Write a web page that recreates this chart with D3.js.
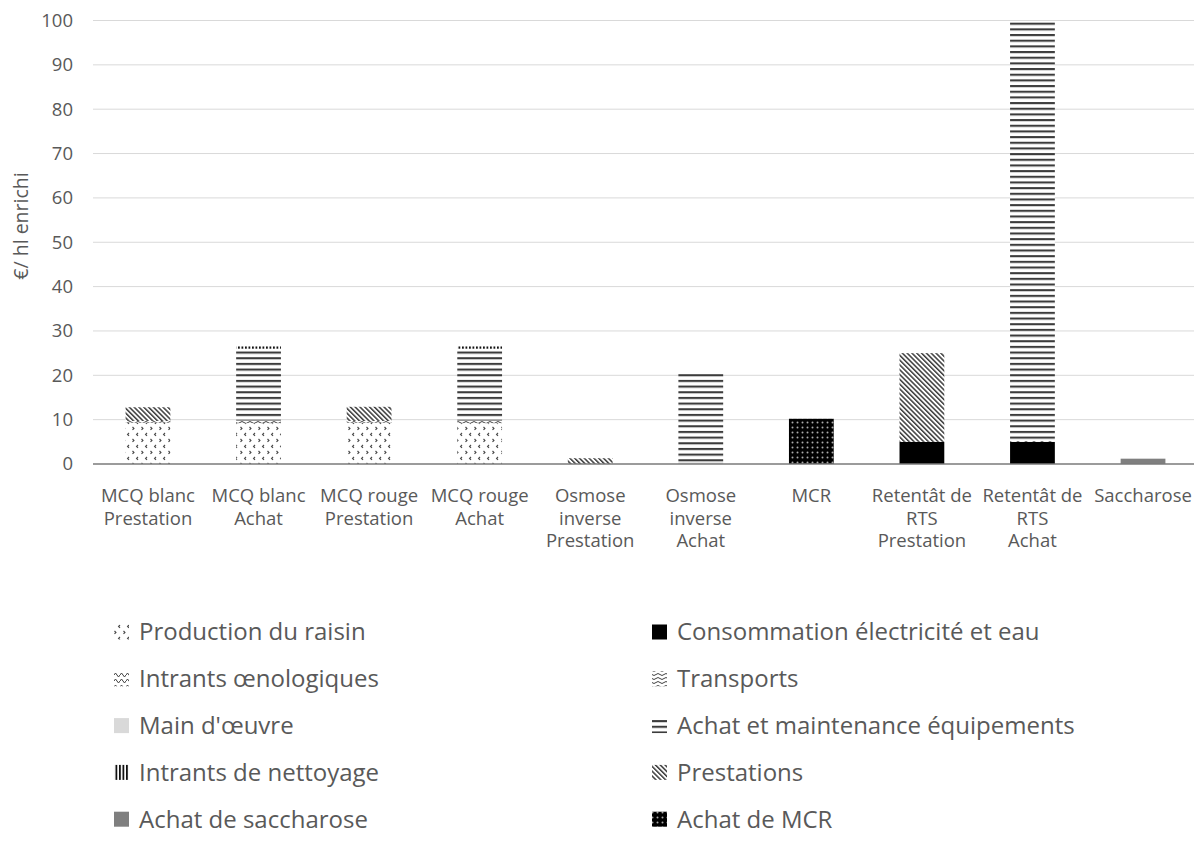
<!DOCTYPE html>
<html>
<head>
<meta charset="utf-8">
<script src="https://cdn.jsdelivr.net/npm/d3@7"></script>
<style>
  html, body { margin: 0; padding: 0; background: #fff; }
  svg { display: block; font-family: "Open Sans", Lato, sans-serif; }
</style>
</head>
<body>
<svg id="chart" width="1194" height="861"></svg>
<script>
// Categories (label lines as drawn under each bar)
const categories = [
  "MCQ blanc Prestation", "MCQ blanc Achat", "MCQ rouge Prestation", "MCQ rouge Achat",
  "Osmose inverse Prestation", "Osmose inverse Achat", "MCR",
  "Retentât de RTS Prestation", "Retentât de RTS Achat", "Saccharose"
];
const categoryLines = [
  ["MCQ blanc", "Prestation"], ["MCQ blanc", "Achat"], ["MCQ rouge", "Prestation"], ["MCQ rouge", "Achat"],
  ["Osmose", "inverse", "Prestation"], ["Osmose", "inverse", "Achat"], ["MCR"],
  ["Retentât de", "RTS", "Prestation"], ["Retentât de", "RTS", "Achat"], ["Saccharose"]
];

// Cost components, €/hl enrichi
const productionRaisin   = [9.3, 9.2, 9.3, 9.2, 0, 0, 0, 0, 0, 0];
const consoElecEau       = [0, 0, 0, 0, 0, 0, 0, 5.0, 5.0, 0];
const intrantsOenolog    = [0, 0, 0, 0, 0, 0, 0, 0, 0, 0];
const transports         = [0.4, 0.6, 0.4, 0.6, 0, 0, 0, 0, 0.4, 0];
const mainOeuvre         = [0, 0, 0, 0, 0, 0.4, 0, 0, 0, 0];
const equipements        = [0, 16.2, 0, 16.2, 0, 20.1, 0, 0, 94.3, 0];
const intrantsNettoyage  = [0, 0.5, 0, 0.5, 0, 0, 0, 0, 0, 0];
const prestations        = [3.1, 0, 3.2, 0, 1.3, 0, 0, 20.0, 0, 0];
const achatSaccharose    = [0, 0, 0, 0, 0, 0, 0, 0, 0, 1.2];
const achatMCR           = [0, 0, 0, 0, 0, 0, 10.2, 0, 0, 0];

const seriesNames = [
  "Production du raisin", "Consommation électricité et eau", "Intrants œnologiques", "Transports",
  "Main d'œuvre", "Achat et maintenance équipements", "Intrants de nettoyage", "Prestations",
  "Achat de saccharose", "Achat de MCR"
];
const seriesValues = [
  productionRaisin, consoElecEau, intrantsOenolog, transports, mainOeuvre,
  equipements, intrantsNettoyage, prestations, achatSaccharose, achatMCR
];
const yTicks = [0, 10, 20, 30, 40, 50, 60, 70, 80, 90, 100];

const svg = d3.select("#chart");
const defs = svg.append("defs");
const textColor = "#595959";

// ---- fill patterns ----
function pat(id, w, h, transform) {
  const p = defs.append("pattern").attr("id", id)
    .attr("patternUnits", "userSpaceOnUse").attr("width", w).attr("height", h);
  if (transform) p.attr("patternTransform", transform);
  return p;
}
// grape production: staggered small chevrons
{
  const p = pat("p0", 9, 12);
  p.append("rect").attr("width", 9).attr("height", 12).attr("fill", "#fff");
  p.append("path").attr("d", "M3,1 L1.6,2.4 L3,3.8").attr("fill", "none").attr("stroke", "#4a4a4a").attr("stroke-width", 1.2);
  p.append("path").attr("d", "M6.5,7 L7.9,8.4 L6.5,9.8").attr("fill", "none").attr("stroke", "#4a4a4a").attr("stroke-width", 1.2);
}
// oenological inputs: zigzag
{
  const p = pat("p2", 6, 6);
  p.append("rect").attr("width", 6).attr("height", 6).attr("fill", "#fff");
  p.append("path").attr("d", "M0,3 L1.5,1 L3,3 L4.5,5 L6,3").attr("fill", "none").attr("stroke", "#404040").attr("stroke-width", 1);
}
// transports: wave dashes
{
  const p = pat("p3", 8, 4);
  p.append("rect").attr("width", 8).attr("height", 4).attr("fill", "#fff");
  p.append("path").attr("d", "M0,2.5 Q2,0.5 4,2.5 T8,2.5").attr("fill", "none").attr("stroke", "#404040").attr("stroke-width", 1);
}
// equipment: horizontal lines
{
  const p = pat("p5", 10, 5.67);
  p.append("rect").attr("width", 10).attr("height", 5.67).attr("fill", "#fff");
  p.append("rect").attr("y", 0).attr("width", 10).attr("height", 2.1).attr("fill", "#3c3c3c");
}
// cleaning inputs: vertical lines
{
  const p = pat("p6", 3.5, 10);
  p.append("rect").attr("width", 3.5).attr("height", 10).attr("fill", "#fff");
  p.append("rect").attr("x", 0).attr("width", 1.8).attr("height", 10).attr("fill", "#111");
}
// services: diagonal "\" lines
{
  const p = pat("p7", 3.4, 10, "rotate(-45)");
  p.append("rect").attr("width", 3.4).attr("height", 10).attr("fill", "#fff");
  p.append("rect").attr("x", 0).attr("width", 1.5).attr("height", 10).attr("fill", "#3a3a3a");
}
// MCR purchase: black with light dots
{
  const p = pat("p9", 5, 5);
  p.append("rect").attr("width", 5).attr("height", 5).attr("fill", "#000");
  p.append("circle").attr("cx", 2.5).attr("cy", 2.5).attr("r", 1).attr("fill", "#aaa");
}

const fills = [
  "url(#p0)", "#000000", "url(#p2)", "url(#p3)", "#d9d9d9",
  "url(#p5)", "url(#p6)", "url(#p7)", "#7f7f7f", "url(#p9)"
];

// ---- scales ----
const x = d3.scaleBand().domain(categories).range([92.7, 1198.3]).paddingInner(0.595).paddingOuter(0.2975);
const y = d3.scaleLinear().domain([0, 100]).range([464, 20.5]);

// gridlines
svg.append("g").selectAll("line").data(yTicks.filter(d => d > 0)).join("line")
  .attr("x1", 93).attr("x2", 1194)
  .attr("y1", d => y(d)).attr("y2", d => y(d))
  .attr("stroke", "#d9d9d9").attr("stroke-width", 1);

// y axis labels
const yAxis = d3.axisLeft(y).tickValues(yTicks).tickSize(0).tickPadding(0);
const gy = svg.append("g").attr("transform", "translate(73,0)").call(yAxis);
gy.select(".domain").remove();
gy.selectAll("text").attr("fill", textColor).style("font-size", "18.5px")
  .style("font-family", "'Open Sans', Lato, sans-serif");

// axis title
svg.append("text")
  .attr("transform", "translate(21,226) rotate(-90)")
  .attr("text-anchor", "middle").attr("dy", "0.35em").attr("fill", textColor).style("font-size", "19.5px")
  .text("€/ hl enrichi");

// ---- stacked bars ----
const table = categories.map((c, i) => {
  const row = { cat: c };
  seriesNames.forEach((s, k) => row[s] = seriesValues[k][i]);
  return row;
});
const stacked = d3.stack().keys(seriesNames)(table);

svg.append("g").selectAll("g").data(stacked).join("g")
  .attr("fill", (d, i) => fills[i])
  .selectAll("rect").data(d => d.filter(v => v[1] - v[0] > 0)).join("rect")
  .attr("x", d => x(d.data.cat))
  .attr("width", x.bandwidth())
  .attr("y", d => y(d[1]))
  .attr("height", d => y(d[0]) - y(d[1]));

// baseline
svg.append("line").attr("x1", 93).attr("x2", 1194).attr("y1", y(0)).attr("y2", y(0))
  .attr("stroke", "#7a7a7a").attr("stroke-width", 1.6);

// category labels
const gx = svg.append("g");
categories.forEach((c, i) => {
  const t = gx.append("text").attr("text-anchor", "middle").attr("fill", textColor)
    .style("font-size", "18.5px");
  categoryLines[i].forEach((line, j) => {
    t.append("tspan").attr("x", x(c) + x.bandwidth() / 2).attr("y", 496 + j * 22.4)
      .attr("dy", "0.35em").text(line);
  });
});

// ---- legend ----
const legend = svg.append("g");
seriesNames.forEach((s, i) => {
  const col = i % 2, row = Math.floor(i / 2);
  const lx = col === 0 ? 114 : 652;
  const ly = 632 + row * 46.8;
  legend.append("rect").attr("x", lx).attr("y", ly - 7.5).attr("width", 15).attr("height", 15)
    .attr("fill", fills[i]);
  legend.append("text").attr("x", lx + 25).attr("y", ly).attr("dy", "0.35em")
    .attr("fill", textColor).style("font-size", "24px").text(s);
});
</script>
</body>
</html>
